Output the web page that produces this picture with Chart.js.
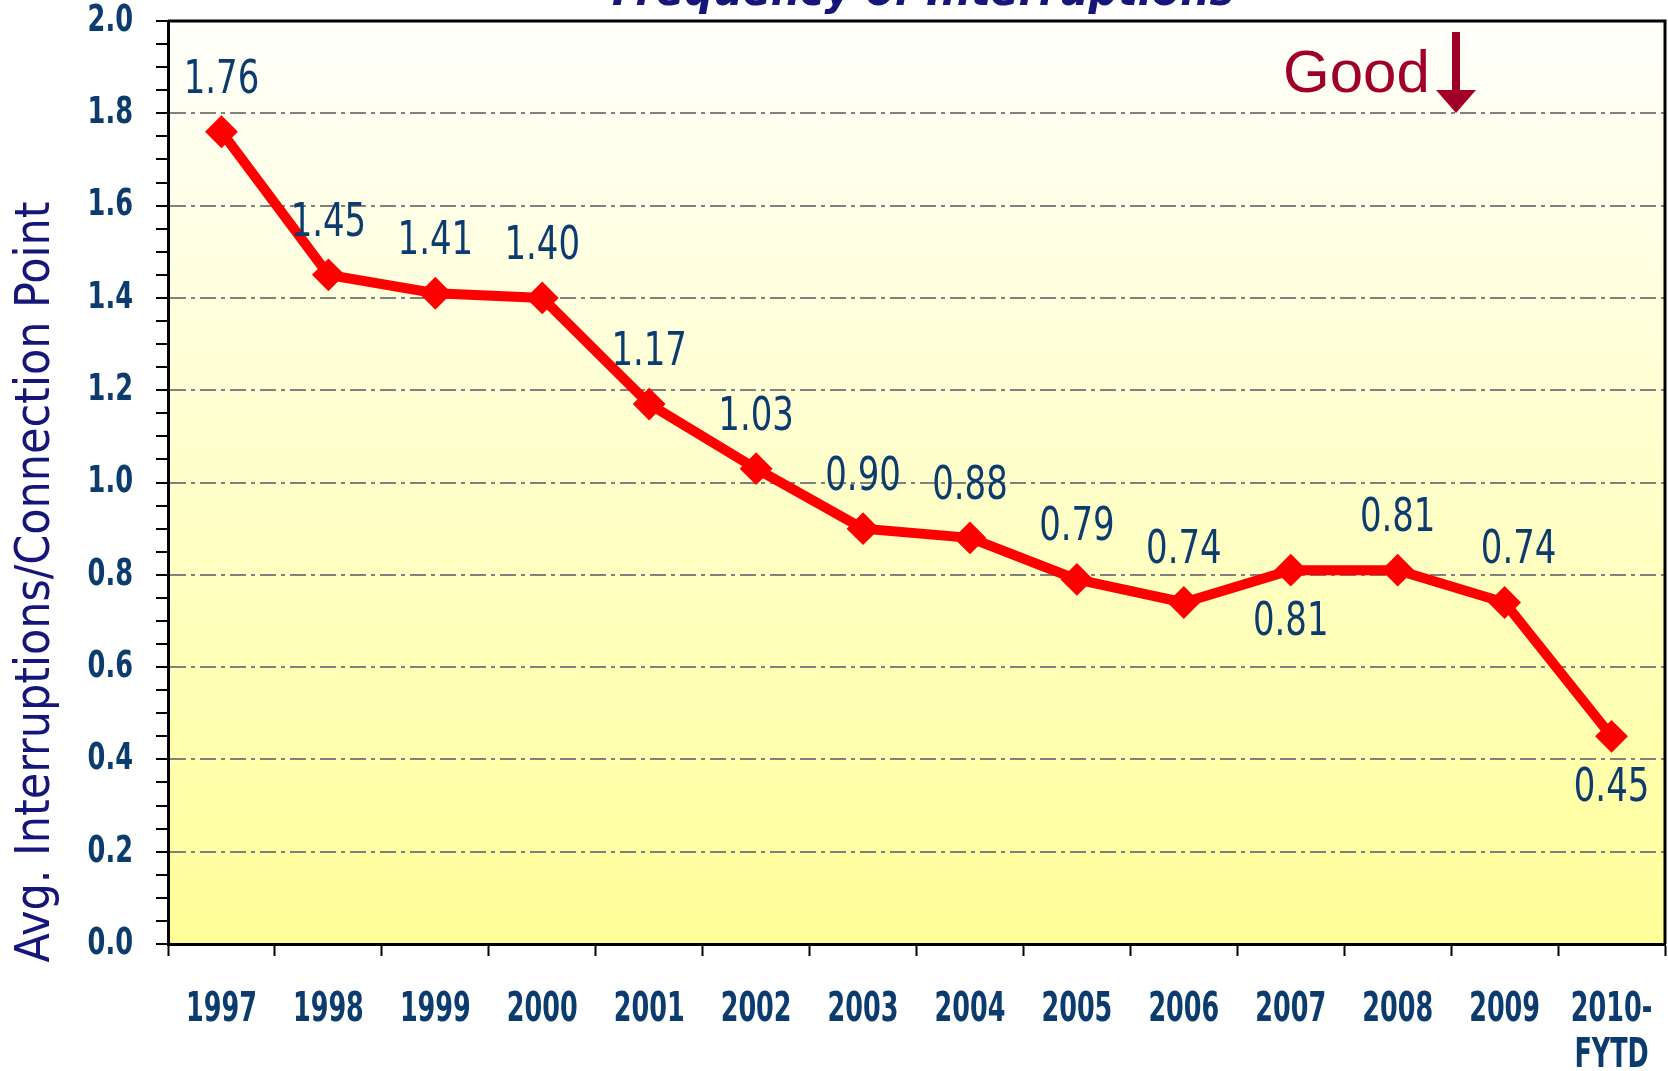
<!DOCTYPE html>
<html>
<head>
<meta charset="utf-8">
<script src="https://cdn.jsdelivr.net/npm/chart.js@4.4.1/dist/chart.umd.min.js"></script>
<style>
  html, body { margin: 0; padding: 0; background: #fff; }
  #chart { display: block; }
</style>
</head>
<body>
<canvas id="chart" width="1668" height="1071"></canvas>
<script>
// data
const years = ['1997', '1998', '1999', '2000', '2001', '2002', '2003', '2004',
  '2005', '2006', '2007', '2008', '2009', ['2010-', 'FYTD']];
const interruptions = [1.76, 1.45, 1.41, 1.40, 1.17, 1.03, 0.90, 0.88,
  0.79, 0.74, 0.81, 0.81, 0.74, 0.45];
// where each value label sits relative to its point
const labelSide = ['up', 'up', 'up', 'up', 'up', 'up', 'up', 'up',
  'up', 'up', 'down', 'up', 'up', 'down'];

const COND = '"DejaVu Sans Condensed", "DejaVu Sans", sans-serif';
const tickBlue = '#0c3c6e';
const navy = '#16167a';

// the original uses a very narrow face; squeeze the text horizontally
function squeezed(ctx, text, x, y, sx) {
  ctx.save();
  ctx.translate(x, y);
  ctx.scale(sx, 1);
  ctx.fillText(text, 0, 0);
  ctx.restore();
}

const isMajor = v => Math.round(v * 100) % 20 === 0;

const decor = {
  id: 'decor',
  beforeDraw(chart) {
    const { ctx, chartArea: a } = chart;
    ctx.save();
    ctx.fillStyle = '#ffffff';
    ctx.fillRect(0, 0, chart.width, chart.height);
    const g = ctx.createLinearGradient(0, a.top, 0, a.bottom);
    g.addColorStop(0, '#fffffb');
    g.addColorStop(1, '#ffff99');
    ctx.fillStyle = g;
    ctx.fillRect(a.left, a.top, a.right - a.left, a.bottom - a.top);
    ctx.restore();
  },
  afterDatasetsDraw(chart) {
    const { ctx } = chart;
    const pts = chart.getDatasetMeta(0).data;
    ctx.save();
    ctx.fillStyle = tickBlue;
    ctx.font = '46px ' + COND;
    ctx.textAlign = 'center';
    ctx.textBaseline = 'middle';
    pts.forEach((p, i) => {
      const dy = labelSide[i] === 'down' ? 53 : -51;
      const dx = i === 12 ? 14 : 0;
      squeezed(ctx, interruptions[i].toFixed(2), p.x + dx, p.y + dy, 0.82);
    });
    ctx.restore();
  },
  afterDraw(chart) {
    const { ctx, chartArea: a, scales } = chart;
    ctx.save();

    // frame on top and right
    ctx.strokeStyle = '#000';
    ctx.lineWidth = 3;
    ctx.beginPath();
    ctx.moveTo(a.left, a.top);
    ctx.lineTo(a.right, a.top);
    ctx.lineTo(a.right, a.bottom);
    ctx.stroke();

    // category labels under the x axis
    ctx.fillStyle = tickBlue;
    ctx.font = 'bold 41px ' + COND;
    ctx.textAlign = 'center';
    ctx.textBaseline = 'middle';
    scales.x.ticks.forEach((t, i) => {
      const x = scales.x.getPixelForTick(i);
      const lines = [].concat(years[i]);
      lines.forEach((ln, k) => squeezed(ctx, ln, x, a.bottom + 66 + k * 46, 0.69));
    });

    // value labels left of the y axis
    ctx.font = 'bold 38px ' + COND;
    ctx.textAlign = 'right';
    scales.y.ticks.forEach(t => {
      if (!isMajor(t.value)) return;
      squeezed(ctx, t.value.toFixed(1), 133, scales.y.getPixelForValue(t.value), 0.75);
    });

    // cut-off title at the very top
    ctx.fillStyle = navy;
    ctx.font = 'italic bold 44px "DejaVu Sans", sans-serif';
    ctx.textAlign = 'center';
    ctx.textBaseline = 'alphabetic';
    const title = 'Frequency of Interruptions';
    squeezed(ctx, title, 923, 5, 622 / ctx.measureText(title).width);

    // y axis title, sits a bit low like the original
    const yTitle = 'Avg. Interruptions/Connection Point';
    ctx.font = '48px ' + COND;
    ctx.textBaseline = 'middle';
    const sy = 761 / ctx.measureText(yTitle).width;
    ctx.save();
    ctx.translate(37, 582);
    ctx.rotate(-Math.PI / 2);
    ctx.scale(sy, 1);
    ctx.fillText(yTitle, 0, 0);
    ctx.restore();

    // "Good" with down arrow
    ctx.fillStyle = '#a00028';
    ctx.font = '60px "Liberation Sans", sans-serif';
    ctx.textAlign = 'left';
    ctx.textBaseline = 'alphabetic';
    ctx.fillText('Good', 1283, 92);
    ctx.fillRect(1452, 32, 8, 60);
    ctx.beginPath();
    ctx.moveTo(1436, 90);
    ctx.lineTo(1476, 90);
    ctx.lineTo(1456, 113);
    ctx.closePath();
    ctx.fill();
    ctx.restore();
  }
};

new Chart(document.getElementById('chart'), {
  type: 'line',
  data: {
    labels: years,
    datasets: [{
      data: interruptions,
      borderColor: '#ff0000',
      backgroundColor: '#ff0000',
      borderWidth: 10,
      pointStyle: 'rectRot',
      pointRadius: 15,
      pointBorderWidth: 2,
      pointBackgroundColor: '#ff0000',
      pointBorderColor: '#ff0000',
      tension: 0
    }]
  },
  options: {
    responsive: false,
    animation: false,
    layout: { autoPadding: false, padding: { top: 21, right: 3, left: 0, bottom: 0 } },
    plugins: {
      legend: { display: false },
      tooltip: { enabled: false }
    },
    scales: {
      x: {
        offset: true,
        grid: {
          offset: true,
          drawOnChartArea: false,
          tickLength: 12,
          tickWidth: 2,
          tickColor: '#000'
        },
        border: { color: '#000', width: 3 },
        ticks: { display: false, autoSkip: false },
        afterFit: s => { s.height = 127; s.paddingLeft = 0; s.paddingRight = 0; }
      },
      y: {
        min: 0,
        max: 2,
        grid: {
          color: c => (c.tick && isMajor(c.tick.value) && c.tick.value > 0 && c.tick.value < 2) ? '#808080' : 'rgba(0,0,0,0)',
          lineWidth: 2,
          tickLength: 12,
          tickWidth: 2,
          tickColor: '#000',
          tickBorderDash: []
        },
        border: { color: '#000', width: 3, dash: [16, 5, 4, 5] },
        ticks: { display: false, stepSize: 0.05, autoSkip: false },
        afterFit: s => { s.width = 168; s.paddingTop = 0; s.paddingBottom = 0; }
      }
    }
  },
  plugins: [decor]
});
</script>
</body>
</html>
